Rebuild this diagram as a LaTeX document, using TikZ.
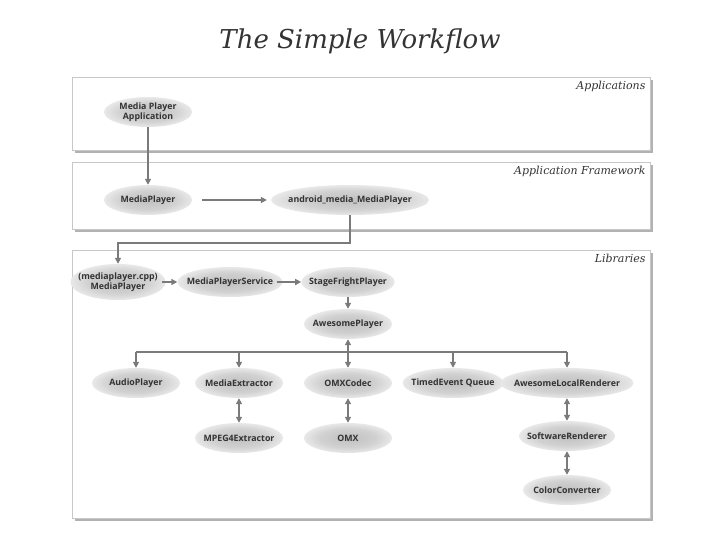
\documentclass[tikz,border=0pt]{standalone}
\usepackage{fontspec}
\setsansfont{Open Sans}
\newfontfamily\headfont{DejaVu Serif}
\usepackage{tikz}
\usetikzlibrary{arrows.meta,shapes.geometric,calc,positioning}
\definecolor{linegray}{HTML}{7A7A7A}
\definecolor{textgray}{HTML}{333333}
\pgfdeclareradialshading{glow}{\pgfpoint{0bp}{0bp}}{%
  color(0bp)=(black!25); color(16bp)=(black!18); color(34bp)=(white); color(50bp)=(white)}
\tikzset{%
  comp/.style={ellipse, shading=glow, inner xsep=-6pt, inner ysep=0pt,
    minimum width=88pt, minimum height=30pt, align=center, text=textgray,
    font=\sffamily\bfseries\fontsize{8.8}{10}\selectfont},
  flow/.style={draw=linegray, line width=1.8pt, -{Triangle[length=6pt,width=6pt]}},
  both/.style={flow, {Triangle[length=6pt,width=6pt]}-{Triangle[length=6pt,width=6pt]}},
  plain/.style={draw=linegray, line width=1.8pt},
  layer/.style={fill=white, draw=black!22, line width=0.8pt},
  layershadow/.style={fill=black!30},
  layername/.style={anchor=north east, text=textgray, font=\headfont\itshape\fontsize{11}{13}\selectfont}
}

\begin{document}
\begin{tikzpicture}[x=1pt,y=-1pt]
\useasboundingbox (0,0) rectangle (728,546);

\node[text=textgray, font=\headfont\itshape\fontsize{26}{30}\selectfont] (title) at (360,41) {The Simple Workflow};

% layers
\foreach \top/\bot/\name in {77/150/Applications, 162/229/Application Framework, 250/518/Libraries}{
  \fill[layershadow] (75,\top+3) rectangle (653,\bot+3);
  \draw[layer] (72,\top) rectangle (650,\bot);
  \node[layername] at (649,\top+1) {\name};
}

% components
\node[comp] (app) at (148,112) {Media Player\\Application};
\node[comp] (mp) at (148,200) {MediaPlayer};
\node[comp] (jni) at (350,200) {android\_media\_MediaPlayer};
\node[comp, minimum height=36pt] (cpp) at (118,282) {(mediaplayer.cpp)\\MediaPlayer};
\node[comp] (svc) at (230,282) {MediaPlayerService};
\node[comp] (sfp) at (348,282) {StageFrightPlayer};
\node[comp] (awe) at (348,324) {AwesomePlayer};
\node[comp] (audio) at (136,383) {AudioPlayer};
\node[comp] (extr) at (239,383) {MediaExtractor};
\node[comp] (omxc) at (348,383) {OMXCodec};
\node[comp] (teq) at (453,383) {TimedEvent Queue};
\node[comp] (alr) at (567,383) {AwesomeLocalRenderer};
\node[comp] (mpeg) at (239,438) {MPEG4Extractor};
\node[comp] (omx) at (348,438) {OMX};
\node[comp] (swr) at (567,436) {SoftwareRenderer};
\node[comp] (cc) at (567,490) {ColorConverter};

% calls
\draw[flow] (app) -- (mp);
\draw[flow, shorten <=10pt, shorten >=4pt] (mp) -- (jni);
\draw[flow] (jni.south) -- ++(0,28) -| (cpp.north);
\draw[flow, shorten <=-4pt] (cpp.east) -- (svc);
\draw[flow, shorten <=-6pt] (svc.east) -- (sfp);
\draw[flow] (sfp) -- (awe);

\coordinate (bus) at (348,352);
\draw[flow] (bus) -- (awe);
\draw[plain] (bus -| audio) -- (bus -| alr);
\foreach \n in {audio,extr,omxc,teq,alr}
  \draw[flow] (bus -| \n) -- (\n);

\draw[both] (extr) -- (mpeg);
\draw[both] (omxc) -- (omx);
\draw[both] (alr) -- (swr);
\draw[both] (swr) -- (cc);

\end{tikzpicture}
\end{document}
